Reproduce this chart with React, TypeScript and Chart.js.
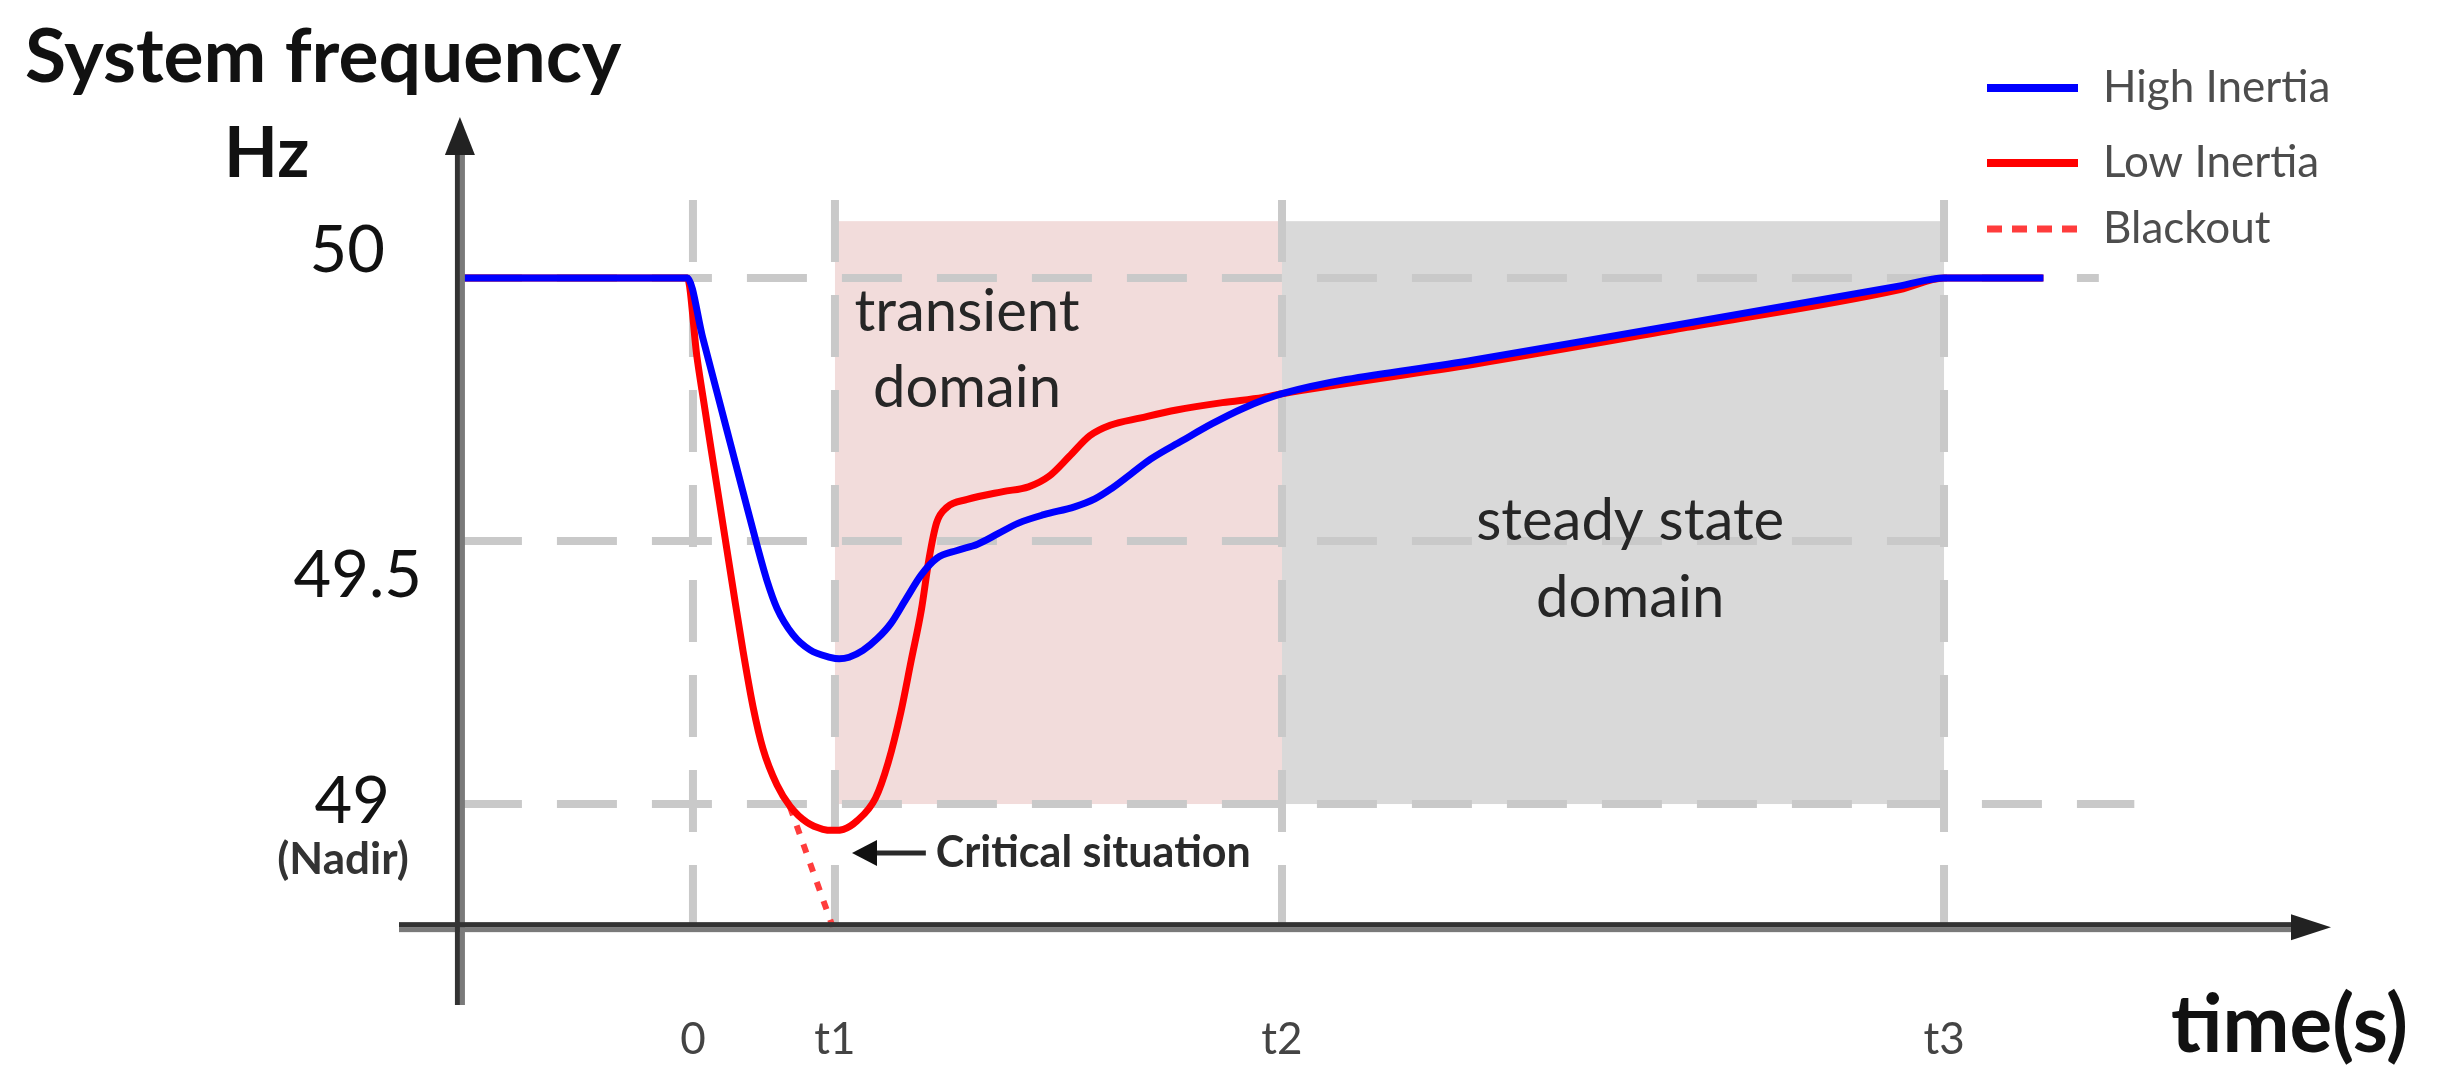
import React, { useEffect, useRef } from "react";
import { Chart, registerables } from "chart.js";

Chart.register(...registerables);

// ---------- data (time in units where t1 = 1) ----------
const highInertiaT = [-1.641, -0.04, 0.07, 0.169, 0.261, 0.352, 0.451, 0.521, 0.592, 0.704, 0.824, 0.965, 1.03, 1.1, 1.197, 1.3, 1.393, 1.501, 1.609, 1.716, 1.86, 2.004, 2.148, 2.292, 2.471, 2.687, 2.83, 2.938, 3.082, 3.225, 3.441, 3.656, 3.872, 4.148, 5.5, 7.0, 8.5, 8.81, 9.51];
const highInertiaF = [50, 50, 49.885, 49.783, 49.688, 49.594, 49.492, 49.425, 49.372, 49.322, 49.293, 49.279, 49.276, 49.279, 49.292, 49.315, 49.343, 49.39, 49.436, 49.467, 49.482, 49.494, 49.514, 49.534, 49.55, 49.565, 49.58, 49.598, 49.627, 49.656, 49.69, 49.723, 49.752, 49.78, 49.844, 49.914, 49.985, 50, 50];

const lowInertiaT = [-1.641, -0.04, 0.028, 0.07, 0.141, 0.211, 0.282, 0.352, 0.423, 0.493, 0.592, 0.683, 0.803, 0.915, 0.99, 1.06, 1.155, 1.285, 1.375, 1.465, 1.537, 1.609, 1.663, 1.716, 1.788, 1.932, 2.183, 2.363, 2.507, 2.651, 2.794, 2.938, 3.154, 3.405, 3.728, 4.016, 4.148, 5.5, 7.0, 8.5, 8.81, 9.51];
const lowInertiaF = [50, 50, 49.85, 49.775, 49.652, 49.532, 49.41, 49.292, 49.185, 49.105, 49.036, 48.996, 48.965, 48.952, 48.95, 48.952, 48.968, 49.011, 49.079, 49.176, 49.273, 49.37, 49.467, 49.535, 49.564, 49.579, 49.594, 49.603, 49.623, 49.661, 49.7, 49.72, 49.734, 49.749, 49.763, 49.773, 49.78, 49.836, 49.906, 49.978, 50, 50];

const blackoutT = [0.683, 0.985];
const blackoutF = [48.995, 48.766];

const seriesLabels = ["High Inertia", "Low Inertia", "Blackout"];

const xTickValues = [0, 1, 4.148, 8.81];
const xTickLabels = ["0", "t1", "t2", "t3"];
const yTickValues = [50, 49.5, 49];
const yTickLabels = ["50", "49.5", "49"];
const yGridEnds = [9.9, 8.81, 10.15];

const domainStarts = [1, 4.148];
const domainEnds = [4.148, 8.81];
const domainTop = 50.108;
const domainBottom = 49;
const domainNames = [["transient", "domain"], ["steady state", "domain"]];
const domainLabelT = [1.93, 6.6];
const domainLabelF = [[49.899, 49.755], [49.502, 49.356]];

// scale bounds & axis positions (data units)
const X_MIN = -2.07;
const X_MAX = 11.535;
const Y_MIN = 48.618;
const Y_MAX = 50.306;
const Y_AXIS_T = -1.641;
const X_AXIS_F = 48.766;
const V_GRID_TOP_F = 50.148;

// "Critical situation" annotation (data units)
const CRIT_TIP_T = 1.12;
const CRIT_TAIL_T = 1.64;
const CRIT_F = 48.907;

// ---------- styles ----------
const FONT = "Lato, 'Open Sans', 'DejaVu Sans', sans-serif";
const BLUE = "#0000ff";
const RED = "#ff0000";
const DOT_RED = "#ff3c3c";
const GRID = "#c9c9c9";
const PINK = "#f2dcdb";
const GREYFILL = "#d9d9d9";
const yTickLabelRight = [385, 422, 390];
const yTickLabelDy = [-6, 56, 19];
const legendRowsY = [88, 163, 229];

const decorPlugin = {
  id: "decor",
  beforeDatasetsDraw(chart: any) {
    const { ctx } = chart;
    const xs = chart.scales.x;
    const ys = chart.scales.y;
    const px = (v: number) => xs.getPixelForValue(v);
    const py = (v: number) => ys.getPixelForValue(v);
    ctx.save();
    // domain shading
    const fills = [PINK, GREYFILL];
    for (let i = 0; i < domainStarts.length; i++) {
      ctx.fillStyle = fills[i];
      const x0 = px(domainStarts[i]);
      const x1 = px(domainEnds[i]);
      const y0 = py(domainTop);
      const y1 = py(domainBottom);
      ctx.fillRect(x0, y0, x1 - x0, y1 - y0);
    }
    // dashed grid
    ctx.strokeStyle = GRID;
    ctx.lineWidth = 8;
    ctx.lineCap = "butt";
    ctx.setLineDash([60, 35]);
    ctx.lineDashOffset = 0;
    for (let i = 0; i < yTickValues.length; i++) {
      const y = py(yTickValues[i]);
      ctx.beginPath();
      ctx.moveTo(px(Y_AXIS_T) + 2, y);
      ctx.lineTo(px(yGridEnds[i]), y);
      ctx.stroke();
    }
    ctx.setLineDash([62, 33]);
    for (let i = 0; i < xTickValues.length; i++) {
      const x = px(xTickValues[i]);
      ctx.beginPath();
      ctx.moveTo(x, py(V_GRID_TOP_F));
      ctx.lineTo(x, py(X_AXIS_F) + 10);
      ctx.stroke();
    }
    ctx.setLineDash([]);
    // domain labels
    ctx.fillStyle = "#262626";
    ctx.font = `58px ${FONT}`;
    ctx.textAlign = "center";
    ctx.textBaseline = "alphabetic";
    for (let i = 0; i < domainNames.length; i++) {
      for (let j = 0; j < domainNames[i].length; j++) {
        ctx.fillText(domainNames[i][j], px(domainLabelT[i]), py(domainLabelF[i][j]));
      }
    }
    ctx.restore();
  },
  afterDatasetsDraw(chart: any) {
    const { ctx, chartArea } = chart;
    const xs = chart.scales.x;
    const ys = chart.scales.y;
    const px = (v: number) => xs.getPixelForValue(v);
    const py = (v: number) => ys.getPixelForValue(v);
    ctx.save();
    // axes (two-tone like the reference)
    const ax = px(Y_AXIS_T);
    const ay = py(X_AXIS_F);
    ctx.fillStyle = "#7a7a7a";
    ctx.fillRect(ax, chartArea.top + 30, 5, chartArea.bottom - chartArea.top - 30);
    ctx.fillRect(chartArea.left, ay, chartArea.right - chartArea.left - 30, 5);
    ctx.fillStyle = "#333333";
    ctx.fillRect(ax - 5, chartArea.top + 30, 5, chartArea.bottom - chartArea.top - 30);
    ctx.fillRect(chartArea.left, ay - 5, chartArea.right - chartArea.left - 30, 5);
    // arrowheads
    ctx.fillStyle = "#222222";
    ctx.beginPath();
    ctx.moveTo(ax, chartArea.top);
    ctx.lineTo(ax - 15, chartArea.top + 38);
    ctx.lineTo(ax + 15, chartArea.top + 38);
    ctx.closePath();
    ctx.fill();
    ctx.beginPath();
    ctx.moveTo(chartArea.right, ay);
    ctx.lineTo(chartArea.right - 40, ay - 13);
    ctx.lineTo(chartArea.right - 40, ay + 13);
    ctx.closePath();
    ctx.fill();

    // critical situation arrow + text
    const cy = py(CRIT_F);
    const tipX = px(CRIT_TIP_T);
    const tailX = px(CRIT_TAIL_T);
    ctx.strokeStyle = "#2a2a2a";
    ctx.lineWidth = 5;
    ctx.beginPath();
    ctx.moveTo(tipX + 20, cy);
    ctx.lineTo(tailX, cy);
    ctx.stroke();
    ctx.fillStyle = "#111111";
    ctx.beginPath();
    ctx.moveTo(tipX, cy);
    ctx.lineTo(tipX + 25, cy - 13);
    ctx.lineTo(tipX + 25, cy + 13);
    ctx.closePath();
    ctx.fill();
    ctx.fillStyle = "#2a2a2a";
    ctx.font = `bold 43px ${FONT}`;
    ctx.textAlign = "left";
    ctx.textBaseline = "middle";
    ctx.fillText("Critical situation", tailX + 10, cy);

    // y tick labels
    ctx.fillStyle = "#111111";
    ctx.font = `65px ${FONT}`;
    ctx.textAlign = "right";
    ctx.textBaseline = "alphabetic";
    for (let i = 0; i < yTickValues.length; i++) {
      ctx.fillText(yTickLabels[i], yTickLabelRight[i], py(yTickValues[i]) + yTickLabelDy[i]);
    }
    ctx.fillStyle = "#333333";
    ctx.font = `bold 44px ${FONT}`;
    ctx.textAlign = "center";
    ctx.fillText("(Nadir)", 343, py(49) + 70);

    // x tick labels
    ctx.fillStyle = "#444444";
    ctx.font = `44px ${FONT}`;
    ctx.textAlign = "center";
    for (let i = 0; i < xTickValues.length; i++) {
      ctx.fillText(xTickLabels[i], px(xTickValues[i]), 1054);
    }

    // axis titles
    ctx.fillStyle = "#111111";
    ctx.font = `bold 75px ${FONT}`;
    ctx.textAlign = "left";
    ctx.fillText("System frequency", 25, 82);
    ctx.font = `bold 70px ${FONT}`;
    ctx.fillText("Hz", 224, 177);
    ctx.font = `bold 80px ${FONT}`;
    ctx.fillText("time(s)", 2171, 1052);

    // legend
    const ds = chart.data.datasets;
    for (let i = 0; i < ds.length; i++) {
      const y = legendRowsY[i];
      ctx.strokeStyle = ds[i].borderColor;
      ctx.lineWidth = i === 2 ? 7 : 8;
      ctx.setLineDash(i === 2 ? [15, 10] : []);
      ctx.beginPath();
      ctx.moveTo(1987, y);
      ctx.lineTo(2078, y);
      ctx.stroke();
      ctx.setLineDash([]);
      ctx.fillStyle = "#4d4d4d";
      ctx.font = `44px ${FONT}`;
      ctx.textAlign = "left";
      ctx.textBaseline = "middle";
      ctx.fillText(ds[i].label, 2103, y);
    }
    ctx.restore();
  },
};

const toPoints = (ts: number[], fs: number[]) => ts.map((t, i) => ({ x: t, y: fs[i] }));

export default function App() {
  const canvasRef = useRef<HTMLCanvasElement | null>(null);

  useEffect(() => {
    document.body.style.margin = "0";
    document.body.style.overflow = "hidden";
    const canvas = canvasRef.current;
    if (!canvas) return;
    const chart = new Chart(canvas, {
      type: "line",
      data: {
        datasets: [
          {
            label: seriesLabels[0],
            data: toPoints(highInertiaT, highInertiaF),
            borderColor: BLUE,
            borderWidth: 7,
            pointRadius: 0,
            fill: false,
            cubicInterpolationMode: "monotone",
            borderJoinStyle: "round",
          },
          {
            label: seriesLabels[1],
            data: toPoints(lowInertiaT, lowInertiaF),
            borderColor: RED,
            borderWidth: 7,
            pointRadius: 0,
            fill: false,
            cubicInterpolationMode: "monotone",
            borderJoinStyle: "round",
          },
          {
            label: seriesLabels[2],
            data: toPoints(blackoutT, blackoutF),
            borderColor: DOT_RED,
            borderWidth: 6,
            borderDash: [9, 11],
            pointRadius: 0,
            fill: false,
          },
        ],
      } as any,
      options: {
        responsive: false,
        animation: false,
        devicePixelRatio: 1,
        parsing: false,
        layout: { padding: { left: 399, right: 109, top: 117, bottom: 73 } },
        scales: {
          x: { type: "linear", min: X_MIN, max: X_MAX, display: false },
          y: { type: "linear", min: Y_MIN, max: Y_MAX, display: false },
        },
        plugins: {
          legend: { display: false },
          tooltip: { enabled: false },
        },
        events: [],
      } as any,
      plugins: [decorPlugin],
    });
    return () => chart.destroy();
  }, []);

  return (
    <div style={{ width: 2440, height: 1078, position: "relative", background: "#ffffff" }}>
      <canvas ref={canvasRef} width={2440} height={1078} style={{ display: "block" }} />
    </div>
  );
}
